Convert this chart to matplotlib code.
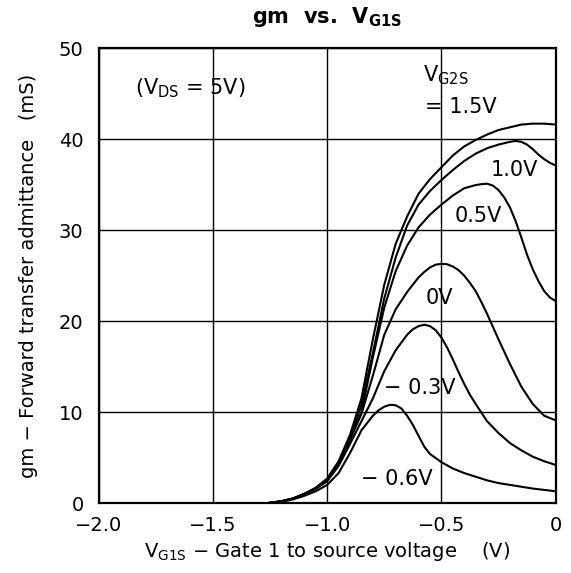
import numpy as np
import matplotlib.pyplot as plt

plt.rcParams['font.family'] = ['DejaVu Sans']
plt.rcParams['mathtext.default'] = 'regular'

# gm (mS) vs VG1S (V), one curve per VG2S
vg2s_labels = ["1.5V", "1.0V", "0.5V", "0V", "\u2212 0.3V", "\u2212 0.6V"]

x_15 = [-1.26, -1.2, -1.15, -1.1, -1.05, -1.0, -0.95, -0.9, -0.85, -0.8, -0.75, -0.7, -0.65, -0.6,
        -0.55, -0.5, -0.45, -0.4, -0.35, -0.3, -0.25, -0.2, -0.15, -0.1, -0.05, 0.0]
y_15 = [0, 0.2, 0.5, 1.0, 1.7, 2.7, 4.6, 7.5, 11.5, 18.0, 24.0, 28.5, 31.5, 34.0,
        35.6, 36.9, 38.2, 39.2, 39.9, 40.5, 41.0, 41.3, 41.6, 41.7, 41.7, 41.6]

x_10 = [-1.26, -1.2, -1.15, -1.1, -1.05, -1.0, -0.95, -0.9, -0.85, -0.8, -0.75, -0.7, -0.65, -0.6,
        -0.55, -0.5, -0.45, -0.4, -0.35, -0.3, -0.25, -0.2, -0.175, -0.15, -0.125, -0.1, -0.075,
        -0.05, -0.025, 0.0]
y_10 = [0, 0.2, 0.5, 1.0, 1.6, 2.6, 4.4, 7.0, 10.8, 16.5, 22.5, 27.0, 30.5, 32.8,
        34.3, 35.5, 36.6, 37.6, 38.4, 39.0, 39.4, 39.7, 39.8, 39.7, 39.4, 38.9, 38.3,
        37.8, 37.4, 37.1]

x_05 = [-1.26, -1.2, -1.15, -1.1, -1.05, -1.0, -0.95, -0.9, -0.85, -0.8, -0.75, -0.7, -0.65, -0.6,
        -0.55, -0.5, -0.45, -0.4, -0.35, -0.325, -0.3, -0.275, -0.25, -0.225, -0.2, -0.175,
        -0.15, -0.125, -0.1, -0.075, -0.05, -0.025, 0.0]
y_05 = [0, 0.2, 0.5, 1.0, 1.6, 2.5, 4.3, 7.0, 10.0, 16.0, 21.5, 25.5, 28.3, 30.3,
        31.7, 32.8, 33.8, 34.6, 34.95, 35.05, 35.1, 34.9, 34.4, 33.6, 32.5, 31.0,
        29.2, 27.3, 25.7, 24.4, 23.3, 22.6, 22.2]

x_0 = [-1.26, -1.2, -1.15, -1.1, -1.05, -1.0, -0.95, -0.9, -0.85, -0.8, -0.75, -0.7, -0.65, -0.6,
       -0.575, -0.55, -0.525, -0.5, -0.475, -0.45, -0.425, -0.4, -0.375, -0.35, -0.325, -0.3,
       -0.25, -0.2, -0.15, -0.1, -0.05, 0.0]
y_0 = [0, 0.2, 0.5, 1.0, 1.6, 2.5, 4.3, 7.0, 9.8, 14.0, 18.5, 21.3, 23.2, 24.8,
       25.4, 25.9, 26.2, 26.3, 26.25, 26.0, 25.6, 25.0, 24.2, 23.3, 22.1, 20.8,
       18.0, 15.3, 12.8, 10.9, 9.6, 9.1]

x_m03 = [-1.26, -1.2, -1.15, -1.1, -1.05, -1.0, -0.95, -0.9, -0.85, -0.8, -0.75, -0.7, -0.65,
         -0.625, -0.6, -0.575, -0.55, -0.525, -0.5, -0.475, -0.45, -0.425, -0.4, -0.375, -0.35,
         -0.3, -0.25, -0.2, -0.15, -0.1, -0.05, 0.0]
y_m03 = [0, 0.2, 0.5, 1.0, 1.6, 2.4, 4.1, 6.5, 9.0, 11.5, 14.5, 16.8, 18.5,
         19.1, 19.45, 19.6, 19.45, 19.0, 18.2, 17.1, 15.8, 14.4, 13.1, 11.9, 10.9,
         9.0, 7.7, 6.6, 5.8, 5.1, 4.6, 4.2]

x_m06 = [-1.26, -1.2, -1.15, -1.1, -1.05, -1.0, -0.95, -0.9, -0.85, -0.8, -0.775, -0.75, -0.725,
         -0.7, -0.675, -0.65, -0.625, -0.6, -0.575, -0.55, -0.5, -0.45, -0.4, -0.35, -0.3, -0.25,
         -0.2, -0.15, -0.1, -0.05, 0.0]
y_m06 = [0, 0.15, 0.4, 0.8, 1.3, 2.0, 3.3, 5.5, 8.0, 9.6, 10.2, 10.6, 10.8,
         10.75, 10.4, 9.6, 8.6, 7.4, 6.2, 5.4, 4.5, 3.8, 3.3, 2.9, 2.5, 2.2,
         2.0, 1.8, 1.6, 1.45, 1.3]

x_ticks = [-2.0, -1.5, -1.0, -0.5, 0.0]
x_ticklabels = ["\u22122.0", "\u22121.5", "\u22121.0", "\u22120.5", "0"]
y_ticks = [0, 10, 20, 30, 40, 50]

fig = plt.figure(figsize=(5.71, 5.73), dpi=100)
ax = fig.add_axes([0.173, 0.122, 0.800, 0.794])

for xs, ys in [(x_15, y_15), (x_10, y_10), (x_05, y_05), (x_0, y_0), (x_m03, y_m03), (x_m06, y_m06)]:
    ax.plot(xs, ys, color="black", lw=1.5, solid_joinstyle="round")

ax.set_xlim(-2.0, 0.0)
ax.set_ylim(0, 50)
ax.set_xticks(x_ticks)
ax.set_xticklabels(x_ticklabels)
ax.set_yticks(y_ticks)
ax.tick_params(length=0, labelsize=14)
ax.tick_params(axis="x", pad=9)
ax.tick_params(axis="y", pad=11)
# lift the y labels a little so "0" clears the x labels
for lbl in ax.get_yticklabels():
    lbl.set_verticalalignment("center_baseline")
ax.grid(True, color="black", lw=1.0)
for s in ax.spines.values():
    s.set_linewidth(1.6)

# curve labels
fs = 15
ax.text(-1.84, 45.6, "($V_{DS}$ = 5V)", fontsize=fs, va="center", ha="left")
ax.text(-0.58, 47.0, "$V_{G2S}$", fontsize=fs, va="center", ha="left")
ax.text(-0.57, 43.5, "= " + vg2s_labels[0], fontsize=fs, va="center", ha="left")
ax.text(-0.285, 36.6, vg2s_labels[1], fontsize=fs, va="center", ha="left")
ax.text(-0.44, 31.5, vg2s_labels[2], fontsize=fs, va="center", ha="left")
ax.text(-0.57, 22.5, vg2s_labels[3], fontsize=fs, va="center", ha="left")
ax.text(-0.75, 12.7, vg2s_labels[4], fontsize=fs, va="center", ha="left")
ax.text(-0.85, 2.6, vg2s_labels[5], fontsize=fs, va="center", ha="left")

ax.set_title("gm  vs.  $V_{G1S}$", fontsize=15, fontweight="bold", pad=18)
ax.set_xlabel("$V_{G1S}$ \u2212 Gate 1 to source voltage    (V)", fontsize=14, labelpad=4)
ax.set_ylabel("gm \u2212 Forward transfer admittance   (mS)", fontsize=14, labelpad=15)

fig.savefig("out.png", dpi=100)
